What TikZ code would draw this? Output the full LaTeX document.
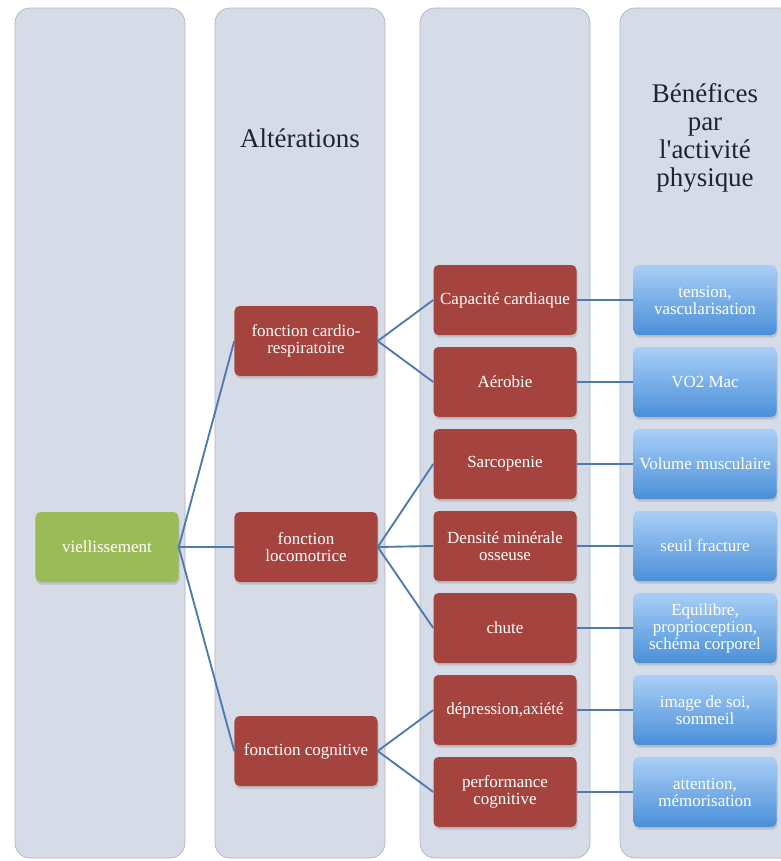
\documentclass[tikz,border=0pt]{standalone}
\usepackage{fontspec}
\setmainfont{Liberation Serif}
\usetikzlibrary{shadows}

\definecolor{panelfill}{HTML}{D6DCE7}
\definecolor{panelline}{HTML}{B0B5BD}
\definecolor{boxred}{HTML}{A5443F}
\definecolor{boxgreen}{HTML}{9BBB59}
\definecolor{bluetop}{HTML}{A9CFF7}
\definecolor{bluebot}{HTML}{4A8FD8}
\definecolor{linkblue}{HTML}{4F7AAE}
\definecolor{headtext}{HTML}{1C2433}

\tikzset{
  panel/.style={fill=panelfill, draw=panelline, line width=0.6pt, rounded corners=0.45cm},
  box/.style={rounded corners=0.15cm, minimum width=4.29cm, minimum height=2.1cm,
              align=center, text=white, font=\fontsize{14.5}{14.5}\selectfont,
              drop shadow={opacity=0.3, shadow xshift=0.03cm, shadow yshift=-0.08cm}},
  agebox/.style={box, fill=boxgreen},
  altbox/.style={box, fill=boxred},
  gainbox/.style={box, top color=bluetop, bottom color=bluebot},
  link/.style={draw=linkblue, line width=1.6pt},
  heading/.style={text=headtext, align=center, font=\fontsize{23}{24}\selectfont}
}

\begin{document}
\begin{tikzpicture}[x=0.03cm, y=-0.03cm]
\clip (0,0) rectangle (781,861);
\useasboundingbox (0,0) rectangle (781,861);

% columns
\draw[panel] (15,8) rectangle (185,858);
\draw[panel] (215,8) rectangle (385,858);
\draw[panel] (420,8) rectangle (590,858);
\draw[panel] (620,8) rectangle (800,858);

\node[heading] (alt) at (300,138) {Altérations};
\node[heading] (ben) at (705,138) {Bénéfices\\par\\l\textquotesingle activité\\physique};

% age
\node[agebox] (vie) at (107,547) {viellissement};

% altérations
\node[altbox] (cardio) at (306,341) {fonction cardio-\\respiratoire};
\node[altbox] (loco) at (306,547) {fonction\\locomotrice};
\node[altbox] (cogn) at (306,751) {fonction cognitive};

\node[altbox] (capa) at (505,300) {Capacité cardiaque};
\node[altbox] (aero) at (505,382) {Aérobie};
\node[altbox] (sarco) at (505,464) {Sarcopenie};
\node[altbox] (dens) at (505,546) {Densité minérale\\osseuse};
\node[altbox] (chute) at (505,628) {chute};
\node[altbox] (depr) at (505,710) {dépression,axiété};
\node[altbox] (perf) at (505,792) {performance\\cognitive};

% bénéfices
\node[gainbox] (tens) at (705,300) {tension,\\vascularisation};
\node[gainbox] (vo2) at (705,382) {VO2 Mac};
\node[gainbox] (musc) at (705,464) {Volume musculaire};
\node[gainbox] (seuil) at (705,546) {seuil fracture};
\node[gainbox] (equi) at (705,628) {Equilibre,\\proprioception,\\schéma corporel};
\node[gainbox] (image) at (705,710) {image de soi,\\sommeil};
\node[gainbox] (atten) at (705,792) {attention,\\mémorisation};

% liens
\draw[link] (vie.east) -- (cardio.west);
\draw[link] (vie.east) -- (loco.west);
\draw[link] (vie.east) -- (cogn.west);

\draw[link] (cardio.east) -- (capa.west);
\draw[link] (cardio.east) -- (aero.west);
\draw[link] (loco.east) -- (sarco.west);
\draw[link] (loco.east) -- (dens.west);
\draw[link] (loco.east) -- (chute.west);
\draw[link] (cogn.east) -- (depr.west);
\draw[link] (cogn.east) -- (perf.west);

\draw[link] (capa) -- (tens);
\draw[link] (aero) -- (vo2);
\draw[link] (sarco) -- (musc);
\draw[link] (dens) -- (seuil);
\draw[link] (chute) -- (equi);
\draw[link] (depr) -- (image);
\draw[link] (perf) -- (atten);
\end{tikzpicture}
\end{document}
